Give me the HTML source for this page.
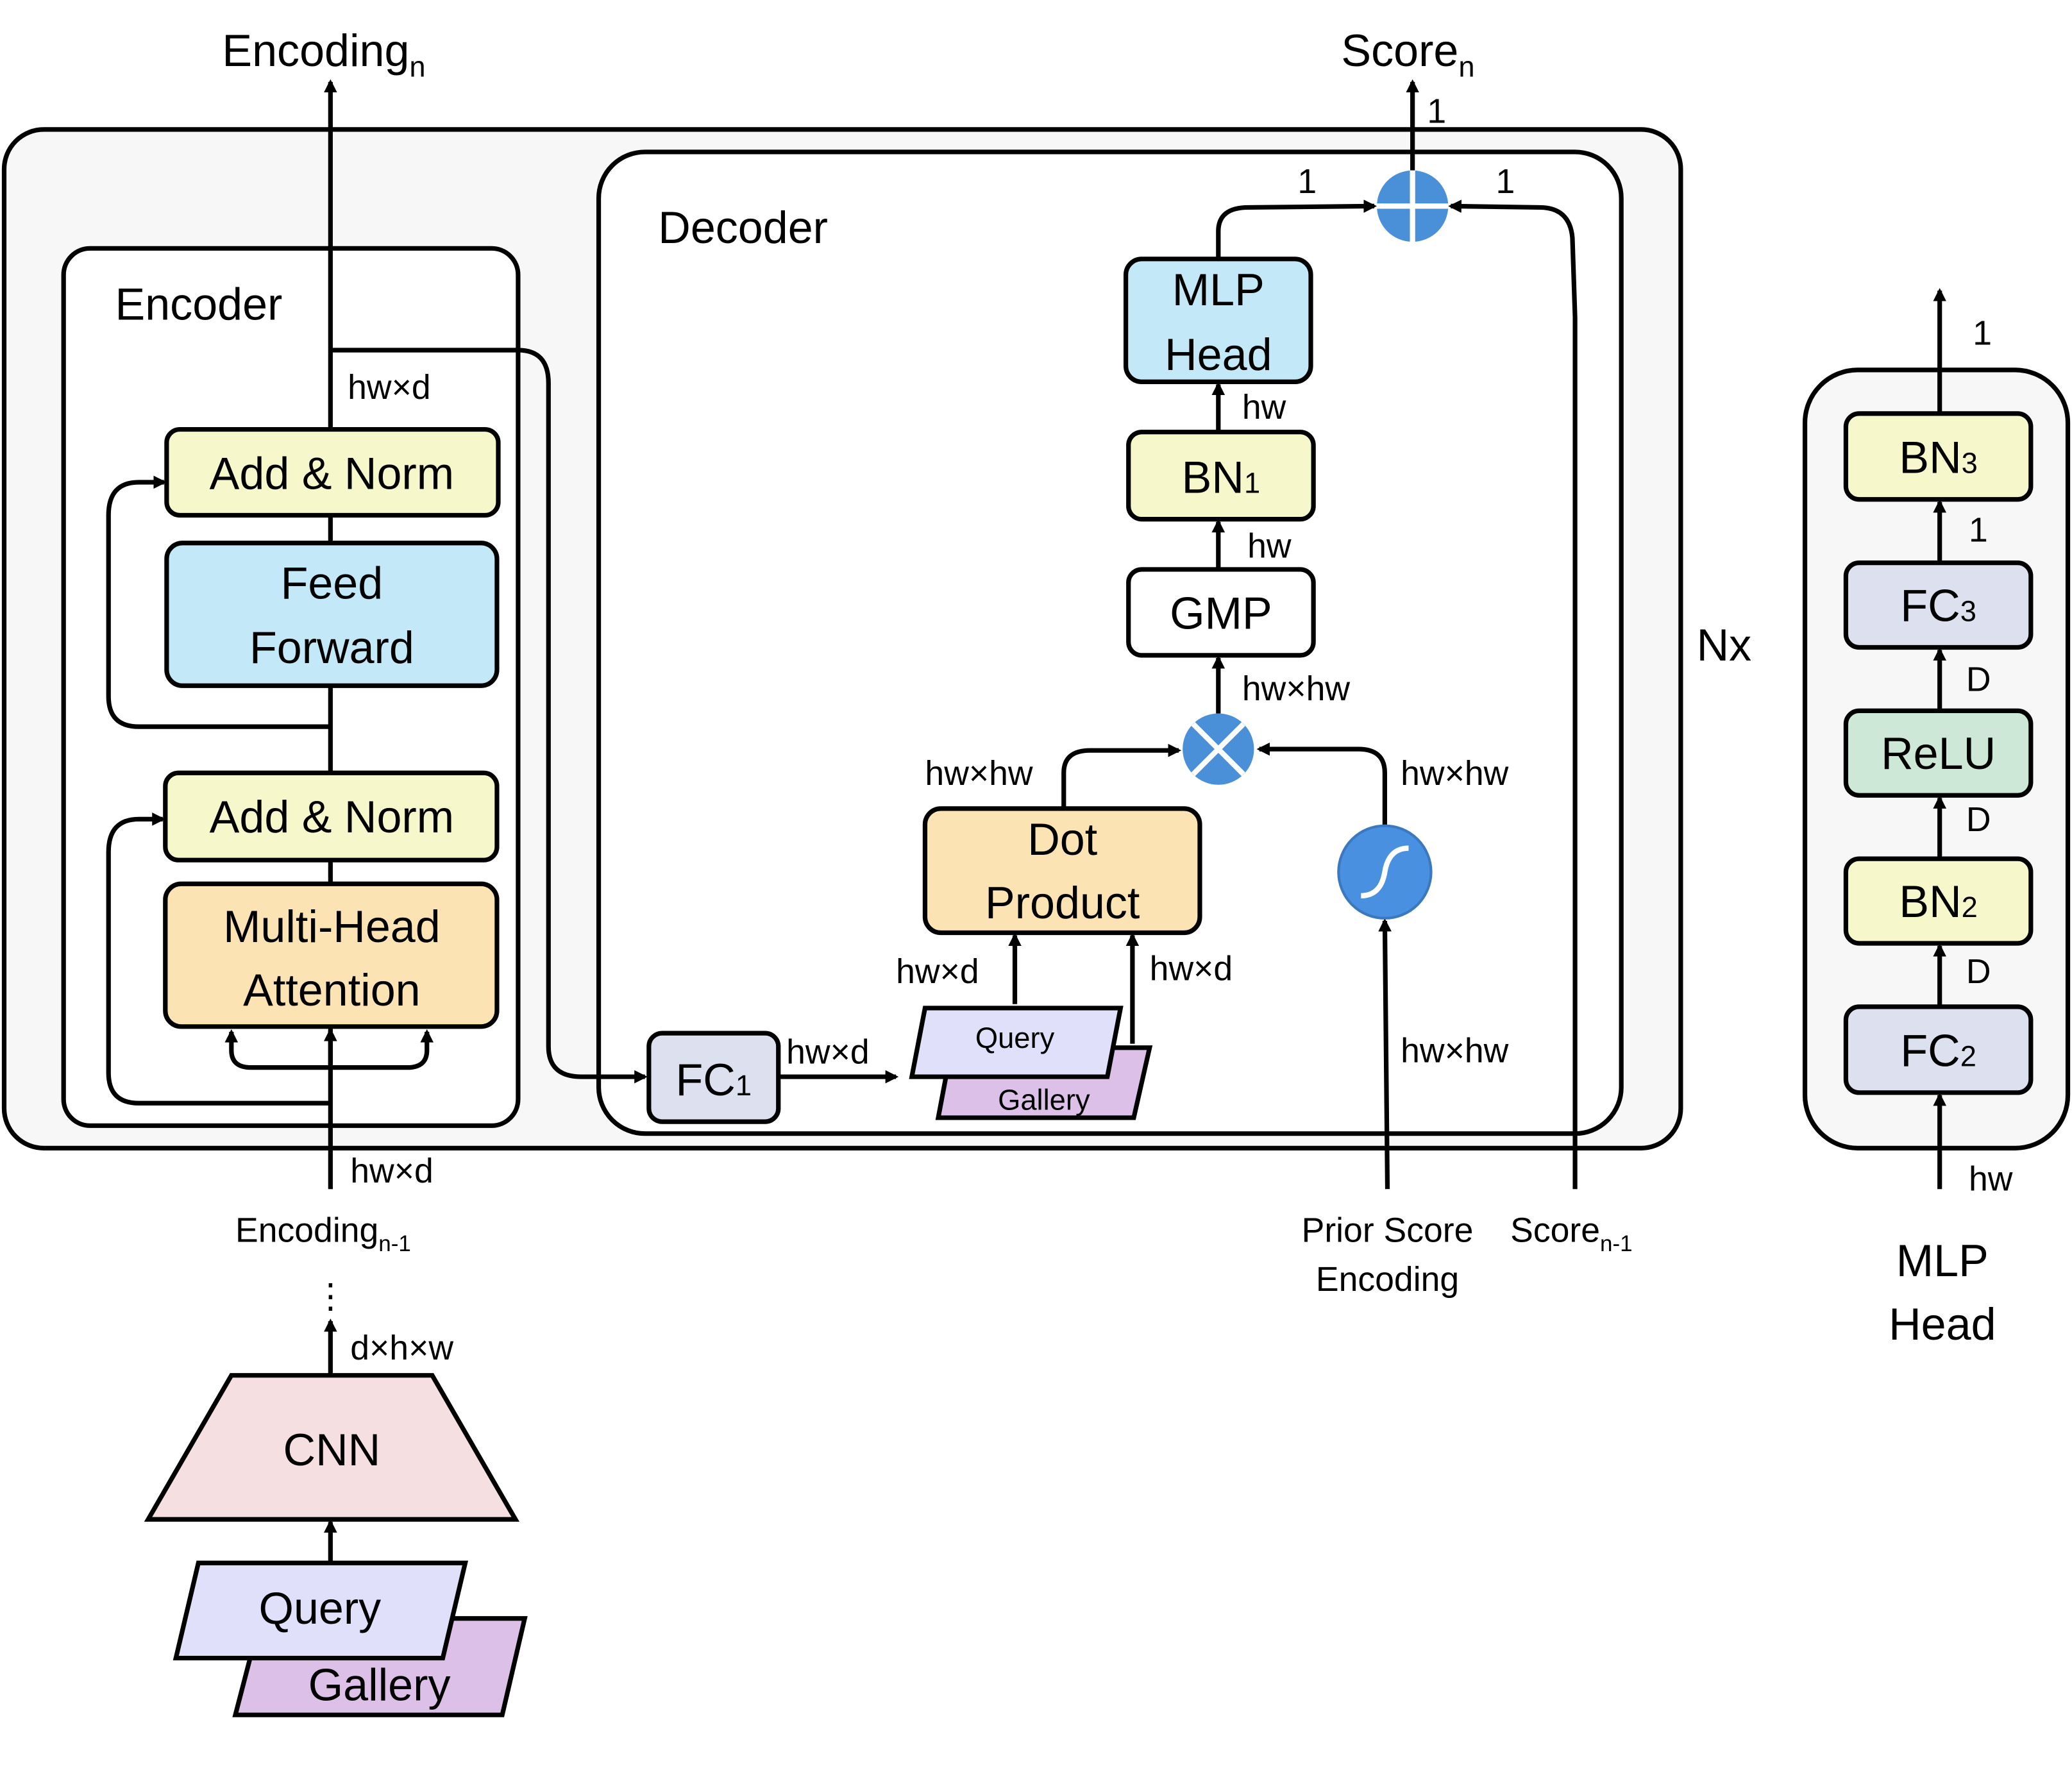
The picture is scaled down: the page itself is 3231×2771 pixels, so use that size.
<!DOCTYPE html>
<html><head><meta charset="utf-8"><style>
html,body{margin:0;padding:0;background:#fff;}
svg{display:block;}
text{font-family:"Liberation Sans",sans-serif;fill:#000;}
</style></head><body>
<svg width="3231" height="2771" viewBox="0 0 1568 1345" xmlns="http://www.w3.org/2000/svg">
<defs>
<marker id="a" markerWidth="10" markerHeight="10" refX="8" refY="5" orient="auto" markerUnits="userSpaceOnUse"><path d="M0,0 L10,5 L0,10 Z" fill="#000"/></marker>
</defs>
<g stroke="#000" stroke-width="3.5">
<rect x="3" y="98" width="1269" height="771" rx="30" fill="#f7f7f7"/>
<rect x="48" y="188" width="344" height="664" rx="20" fill="#fff"/>
<rect x="453" y="115" width="774" height="743" rx="35" fill="#fff"/>
<rect x="1366" y="280" width="199" height="589" rx="40" fill="#f7f7f7"/>
</g>
<g fill="none" stroke="#000" stroke-width="3.5">
<path d="M250 900 V62" marker-end="url(#a)"/>
<path d="M250 265 H392 Q415 265 415 290 V792 Q415 815 440 815 H488" marker-end="url(#a)"/>
<path d="M250 550 H105 Q82 550 82 527 V390 Q82 365 105 365 H124" marker-end="url(#a)"/>
<path d="M250 835 H105 Q82 835 82 812 V645 Q82 620 105 620 H123" marker-end="url(#a)"/>
<path d="M250 808 V780" marker-end="url(#a)"/>
<path d="M250 808 H190 Q175 808 175 795 V781" marker-end="url(#a)"/>
<path d="M250 808 H308 Q323 808 323 795 V781" marker-end="url(#a)"/>
<path d="M250 1040 V1000" marker-end="url(#a)"/>
<path d="M250 1183 V1152" marker-end="url(#a)"/>
<path d="M589 815 H678" marker-end="url(#a)"/>
<path d="M768 760 V708" marker-end="url(#a)"/>
<path d="M857 790 V708" marker-end="url(#a)"/>
<path d="M805 612 V585 Q805 568 825 568 H892" marker-end="url(#a)"/>
<path d="M1050 900 L1048 697" marker-end="url(#a)"/>
<path d="M1048 625 V585 Q1048 567 1028 567 H953" marker-end="url(#a)"/>
<path d="M922 540 V498" marker-end="url(#a)"/>
<path d="M922 431 V395" marker-end="url(#a)"/>
<path d="M922 327 V291" marker-end="url(#a)"/>
<path d="M922 196 V175 Q922 157 945 157 L1040 156" marker-end="url(#a)"/>
<path d="M1192 900 V240 L1190 180 Q1188 157 1165 157 L1098 156" marker-end="url(#a)"/>
<path d="M1069 129 V62" marker-end="url(#a)"/>
<path d="M1468 900 V829" marker-end="url(#a)"/>
<path d="M1468 762 V716" marker-end="url(#a)"/>
<path d="M1468 650 V604" marker-end="url(#a)"/>
<path d="M1468 538 V492" marker-end="url(#a)"/>
<path d="M1468 426 V380" marker-end="url(#a)"/>
<path d="M1468 313 V220" marker-end="url(#a)"/>
</g>
<g stroke="#000" stroke-width="3.5">
<rect x="126" y="325" width="251" height="65" rx="10" fill="#f6f8cc"/>
<rect x="126" y="411" width="250" height="108" rx="12" fill="#c3e8f7"/>
<rect x="125" y="585" width="251" height="66" rx="10" fill="#f6f8cc"/>
<rect x="125" y="669" width="251" height="108" rx="12" fill="#fbe3b4"/>
<polygon points="175,1041 327,1041 390,1150 112,1150" fill="#f5dfe0"/>
<polygon points="197,1225 397,1225 380,1298 178,1298" fill="#dcc0e8"/>
<polygon points="150,1183 352,1183 335,1255 133,1255" fill="#e0e0fb"/>
<rect x="491" y="782" width="98" height="67" rx="10" fill="#dde0ee"/>
<polygon points="720,793 870,793 858,846 710,846" fill="#dcc0e8"/>
<polygon points="700,763 848,763 838,815 690,815" fill="#e0e0fb"/>
<rect x="700" y="612" width="208" height="94" rx="12" fill="#fbe3b4"/>
<rect x="854" y="431" width="140" height="65" rx="10" fill="#fff"/>
<rect x="854" y="327" width="140" height="66" rx="10" fill="#f6f8cc"/>
<rect x="852" y="196" width="140" height="93" rx="12" fill="#c3e8f7"/>
<rect x="1397" y="313" width="140" height="65" rx="10" fill="#f6f8cc"/>
<rect x="1397" y="426" width="140" height="64" rx="10" fill="#dde0ee"/>
<rect x="1397" y="538" width="140" height="64" rx="10" fill="#cde8d6"/>
<rect x="1397" y="650" width="140" height="64" rx="10" fill="#f6f8cc"/>
<rect x="1397" y="762" width="140" height="65" rx="10" fill="#dde0ee"/>
</g>
<circle cx="922" cy="567" r="27" fill="#4a90d9"/>
<path d="M903 548 L941 586 M941 548 L903 586" stroke="#fff" stroke-width="4"/>
<circle cx="1069" cy="156" r="27" fill="#4a90d9"/>
<path d="M1069 129 V183 M1042 156 H1096" stroke="#fff" stroke-width="4"/>
<circle cx="1048" cy="660" r="35" fill="#4a90e0" stroke="#3a78c0" stroke-width="2"/>
<path d="M1030 678 Q1045 678 1048 660 Q1051 642 1066 642" stroke="#fff" stroke-width="4" fill="none"/>
<g font-size="34" text-anchor="middle">
<text x="251" y="370">Add &amp; Norm</text>
<text x="251" y="453">Feed</text><text x="251" y="502">Forward</text>
<text x="251" y="630">Add &amp; Norm</text>
<text x="251" y="713">Multi-Head</text><text x="251" y="761">Attention</text>
<text x="251" y="1109">CNN</text>
<text x="242" y="1229">Query</text>
<text x="287" y="1287">Gallery</text>
<text x="540" y="829">FC<tspan font-size="22">1</tspan></text>
<text x="804" y="647">Dot</text><text x="804" y="695">Product</text>
<text x="924" y="476">GMP</text>
<text x="924" y="373">BN<tspan font-size="22">1</tspan></text>
<text x="922" y="231">MLP</text><text x="922" y="280">Head</text>
<text x="1467" y="358">BN<tspan font-size="22">3</tspan></text>
<text x="1467" y="470">FC<tspan font-size="22">3</tspan></text>
<text x="1467" y="582">ReLU</text>
<text x="1467" y="694">BN<tspan font-size="22">2</tspan></text>
<text x="1467" y="807">FC<tspan font-size="22">2</tspan></text>
<text x="1470" y="966">MLP</text><text x="1470" y="1014">Head</text>
</g>
<g font-size="22" text-anchor="middle">
<text x="768" y="793">Query</text>
<text x="790" y="840">Gallery</text>
</g>
<g font-size="34">
<text x="168" y="50">Encoding<tspan font-size="22" dy="8">n</tspan></text>
<text x="1015" y="50">Score<tspan font-size="22" dy="8">n</tspan></text>
<text x="87" y="242">Encoder</text>
<text x="498" y="184">Decoder</text>
<text x="1284" y="500">Nx</text>
</g>
<g font-size="26">
<text x="263" y="302">hw×d</text>
<text x="265" y="895">hw×d</text>
<text x="178" y="940">Encoding<tspan font-size="17" dy="7">n-1</tspan></text>
<text x="250" y="990" text-anchor="middle">⋮</text>
<text x="265" y="1029">d×h×w</text>
<text x="595" y="805">hw×d</text>
<text x="678" y="744">hw×d</text>
<text x="870" y="742">hw×d</text>
<text x="700" y="594">hw×hw</text>
<text x="1060" y="594">hw×hw</text>
<text x="1060" y="804">hw×hw</text>
<text x="940" y="530">hw×hw</text>
<text x="944" y="422">hw</text>
<text x="940" y="317">hw</text>
<text x="982" y="146">1</text>
<text x="1132" y="146">1</text>
<text x="1080" y="93">1</text>
<text x="1050" y="940" text-anchor="middle">Prior Score</text>
<text x="1050" y="977" text-anchor="middle">Encoding</text>
<text x="1143" y="940">Score<tspan font-size="17" dy="7">n-1</tspan></text>
<text x="1490" y="901">hw</text>
<text x="1488" y="744">D</text>
<text x="1488" y="629">D</text>
<text x="1488" y="523">D</text>
<text x="1490" y="410">1</text>
<text x="1493" y="261">1</text>
</g>
</svg>
</body></html>
